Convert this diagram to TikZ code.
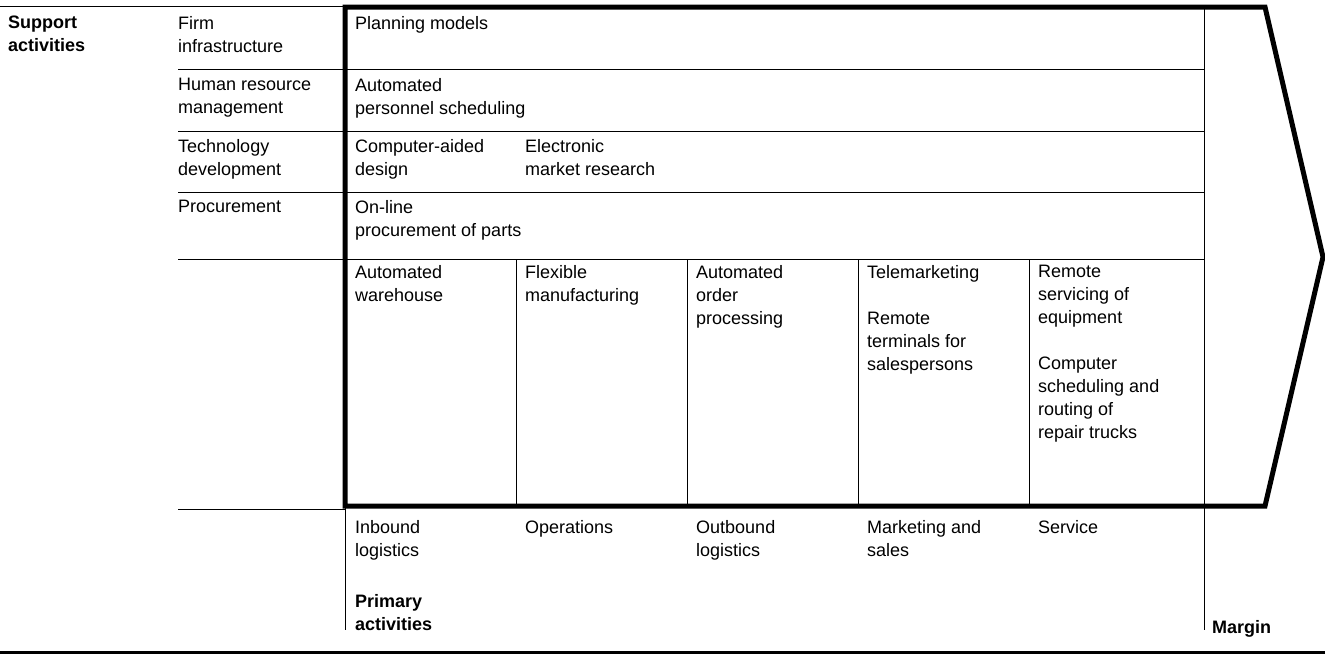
\documentclass[tikz,border=0pt]{standalone}
\usepackage{fontspec}
\setmainfont{Liberation Sans}
\begin{document}
\begin{tikzpicture}[x=1pt,y=-1pt,
  rule/.style={line width=1pt},
  frame/.style={line width=5pt, line join=miter},
  baserule/.style={line width=3pt},
  lbl/.style={anchor=north west, inner sep=0pt, align=left, font=\fontsize{18}{23}\selectfont},
  blbl/.style={anchor=north west, inner sep=0pt, align=left, font=\fontsize{18}{23}\selectfont\bfseries}]
\useasboundingbox (0,0) rectangle (1325,656);
% key coordinates
\coordinate (tl) at (345,7);
\coordinate (tr) at (1265,7);
\coordinate (tip) at (1323,257);
\coordinate (br) at (1265,506);
\coordinate (bl) at (345,506);
% top rule
\draw[rule] (0,6) -- (345,6);
% row rules
\foreach \y in {69,131,192,259} \draw[rule] (178,\y) -- (1204,\y);
% column rules in primary area
\foreach \x in {516,687,858,1029} \draw[rule] (\x,259) -- (\x,506);
% margin rule
\draw[rule] (1204,7) -- (1204,630);
% lower left rules
\draw[rule] (178,509) -- (345,509);
\draw[rule] (345,506) -- (345,630);
% bottom rule
\draw[baserule] (0,652) -- (1325,652);
% thick frame
\draw[frame] (tl) -- (tr) -- (tip) -- (br) -- (bl) -- cycle;
% labels
\node[blbl] (sup) at (8,16) {Support\\activities};
\node[lbl] (fi) at (178,16) {Firm\\infrastructure};
\node[lbl] (hr) at (178,78) {Human resource\\management};
\node[lbl] (td) at (178,139) {Technology\\development};
\node[lbl] (pr) at (178,200) {Procurement};
\node[lbl] (pm) at (355,16) {Planning models};
\node[lbl] (aps) at (355,78) {Automated\\personnel scheduling};
\node[lbl] (cad) at (355,139) {Computer-aided\\design};
\node[lbl] (emr) at (525,139) {Electronic\\market research};
\node[lbl] (olp) at (355,200) {On-line\\procurement of parts};
\node[lbl] (aw) at (355,265) {Automated\\warehouse};
\node[lbl] (fm) at (525,265) {Flexible\\manufacturing};
\node[lbl] (aop) at (696,265) {Automated\\order\\processing};
\node[lbl] (tm) at (867,265) {Telemarketing\\[23pt]Remote\\terminals for\\salespersons};
\node[lbl] (rs) at (1038,265) {Remote\\servicing of\\equipment\\[23pt]Computer\\scheduling and\\routing of\\repair trucks};
\node[lbl] (il) at (355,520) {Inbound\\logistics};
\node[lbl] (op) at (525,520) {Operations};
\node[lbl] (ol) at (696,520) {Outbound\\logistics};
\node[lbl] (ms) at (867,520) {Marketing and\\sales};
\node[lbl] (sv) at (1038,520) {Service};
\node[blbl] (pa) at (355,594) {Primary\\activities};
\node[blbl] (mg) at (1212,620) {Margin};
\end{tikzpicture}
\end{document}
